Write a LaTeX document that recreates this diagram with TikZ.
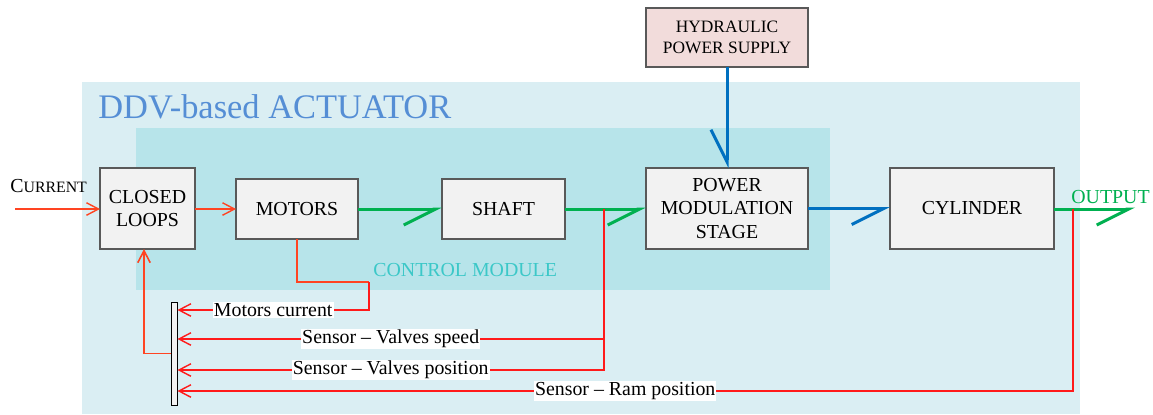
\documentclass[tikz,border=0pt]{standalone}
\usepackage{fontspec}
\setmainfont{Liberation Serif}
\usepackage{tikz}
\usetikzlibrary{arrows.meta, positioning, calc}
\definecolor{actbg}{HTML}{DAEEF3}
\definecolor{ctrlbg}{HTML}{B7E4EA}
\definecolor{boxbg}{HTML}{F2F2F2}
\definecolor{boxbd}{HTML}{595959}
\definecolor{hydbg}{HTML}{F2DCDB}
\definecolor{titleblue}{HTML}{558ED5}
\definecolor{ctrltxt}{HTML}{3CC8C8}
\definecolor{mechgreen}{HTML}{00B050}
\definecolor{hydblue}{HTML}{0070C0}
\definecolor{elecred}{HTML}{FF4422}
\definecolor{sensred}{HTML}{FF1A1A}
\tikzset{
  blk/.style={draw=boxbd, fill=boxbg, line width=0.6pt, inner sep=0pt, outer sep=0pt, align=center,
    font=\fontsize{11.3}{13.3}\selectfont},
  hydbox/.style={blk, fill=hydbg, font=\fontsize{9.9}{11.9}\selectfont},
  muxbar/.style={draw=black, fill=boxbg, line width=0.5pt, inner sep=0pt, minimum width=0.12cm, minimum height=2.06cm},
  lbl/.style={fill=white, inner sep=0.6pt, font=\fontsize{11.3}{13}\selectfont},
  rflow/.style={-{Straight Barb[length=2.4mm, width=2.5mm]}, draw=elecred, line width=0.8pt},
  sflow/.style={rflow, draw=sensred},
  gflow/.style={-{Straight Barb[harpoon, swap, length=6.4mm, width=6.4mm]}, draw=mechgreen, line width=1.7pt},
  bflow/.style={gflow, draw=hydblue}
}
\begin{document}
\begin{tikzpicture}[x=0.02cm, y=-0.02cm]
\useasboundingbox (0,0) rectangle (1153,414);
% actuator and control module areas
\fill[actbg] (82,82) rectangle (1080,414);
\fill[ctrlbg] (136,128) rectangle (830,290);
\node[anchor=base west, inner sep=0pt, text=titleblue, font=\fontsize{19.6}{22}\selectfont] (title) at (98,118) {DDV-based ACTUATOR};
\node[anchor=base west, inner sep=0pt, text=ctrltxt, font=\fontsize{11.3}{13}\selectfont] (ctrl) at (373,276) {CONTROL MODULE};
% blocks
\node[blk, minimum width=1.9cm, minimum height=1.62cm] (loops) at (147.5,208.5) {CLOSED\\LOOPS};
\node[blk, minimum width=2.44cm, minimum height=1.2cm] (motors) at (297,209) {MOTORS};
\node[blk, minimum width=2.46cm, minimum height=1.2cm] (shaft) at (503.5,209) {SHAFT};
\node[blk, minimum width=3.24cm, minimum height=1.62cm] (pms) at (727,208.5) {POWER\\MODULATION\\STAGE};
\node[blk, minimum width=3.28cm, minimum height=1.62cm] (cyl) at (972,208.5) {CYLINDER};
\node[hydbox, minimum width=3.24cm, minimum height=1.18cm] (hyd) at (727,37.5) {HYDRAULIC\\POWER SUPPLY};
\node[muxbar] (mux) at (174,353.5) {};
% input / output
\coordinate (curin) at (15,209);
\coordinate (outtip) at (1135,209);
\node[anchor=base west, inner sep=0pt] (curlbl) at (10,192) {\fontsize{11.3}{13}\selectfont C\fontsize{9}{11}\selectfont URRENT};
\node[anchor=base west, inner sep=0pt, text=mechgreen, font=\fontsize{11.3}{13}\selectfont] (outlbl) at (1071,203) {OUTPUT};
\draw[rflow] (curin) -- (loops.west |- curin);
\draw[rflow] (loops.east |- motors.west) -- (motors.west);
\draw[gflow] (motors) -- (shaft);
\draw[gflow] (shaft.east) -- (pms.west |- shaft.east);
\draw[bflow] (pms.east) -- (cyl.west);
\draw[bflow] (hyd) -- (pms);
\draw[gflow] (cyl.east |- outtip) -- (outtip);
% feedback signals
\coordinate (vtap) at (604,209);
\coordinate (rtap) at (1073,209);
\coordinate (mcturn) at (369,282);
\coordinate (lpin) at (144,249);
\draw[elecred, line width=0.8pt] (motors.south) |- (mcturn);
\draw[sflow] (mcturn) |- node[lbl, pos=0.75] {Motors current} (mux.east |- 0,310);
\draw[sflow] (vtap |- 0,339) -- node[lbl] {Sensor -- Valves speed} (mux.east |- 0,339);
\draw[sflow] (vtap) |- node[lbl, pos=0.75] {Sensor -- Valves position} (mux.east |- 0,370);
\draw[sflow] (rtap) |- node[lbl, pos=0.75] {Sensor -- Ram position} (mux.east |- 0,391);
\draw[rflow, line width=0.9pt] (mux.west) -| (lpin);
\end{tikzpicture}
\end{document}
